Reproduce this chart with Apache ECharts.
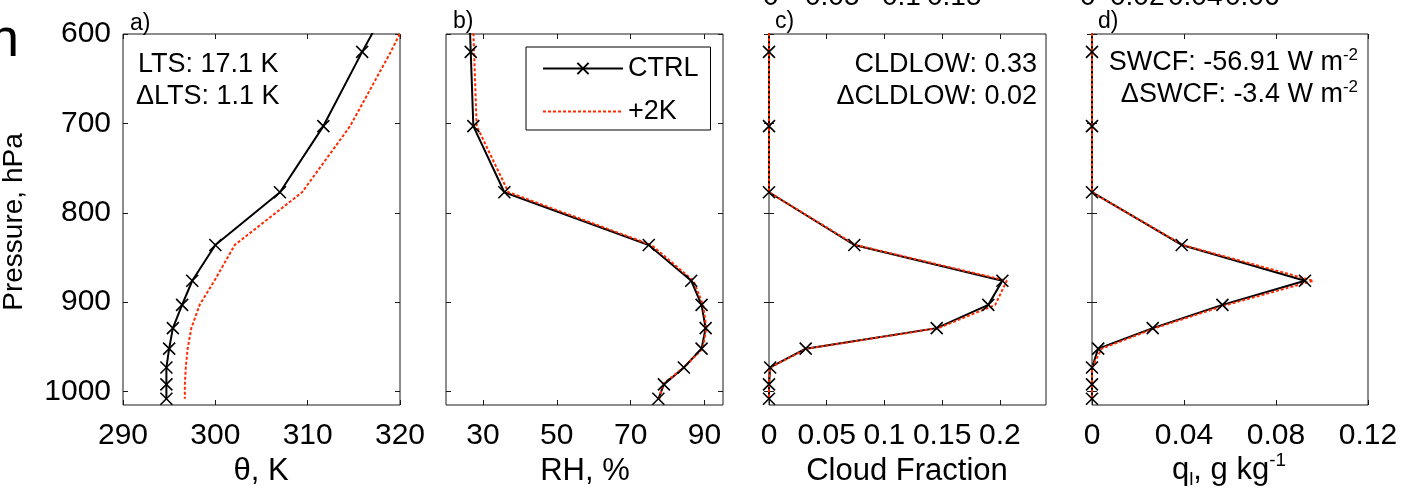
<!DOCTYPE html>
<html lang="en">
<head>
<meta charset="UTF-8">
<title>Profiles</title>
<script src="https://cdn.jsdelivr.net/npm/echarts@6/dist/echarts.min.js"></script>
<style>
  html, body { margin: 0; padding: 0; background: #fff; }
</style>
</head>
<body>
<div id="main" style="width: 1416px;height:499px;"></div>
<script type="text/javascript">
    // pressure levels, hPa (first one sits above the plotted range so the lines run to the top edge)
    var levels = [560, 620, 703, 777, 836, 876, 903, 929, 952, 973, 992, 1008];

    var thetaCtrl = [319.1, 315.9, 311.7, 307.0, 300.0, 297.5, 296.4, 295.4, 295.0, 294.7, 294.7, 294.7];
    var thetaP2K  = [321.9, 319.0, 314.6, 309.4, 302.1, 299.9, 298.3, 297.4, 297.0, 296.8, 296.7, 296.7];

    var rhCtrl = [26.2, 26.7, 27.4, 35.8, 74.9, 86.4, 89.2, 90.3, 89.2, 84.4, 79.0, 77.5];
    var rhP2K  = [27.1, 27.6, 28.3, 36.9, 75.6, 87.0, 89.6, 90.5, 89.5, 84.4, 78.6, 77.8];

    var cldCtrl = [0, 0, 0, 0, 0.0739, 0.2022, 0.190, 0.1453, 0.0318, 0.001, 0, 0];
    var cldP2K  = [0, 0, 0, 0, 0.0750, 0.2060, 0.196, 0.1467, 0.0330, 0.001, 0, 0];

    var qlCtrl = [0, 0, 0, 0, 0.0390, 0.0926, 0.0567, 0.0264, 0.0027, 0, 0, 0];
    var qlP2K  = [0, 0, 0, 0, 0.0395, 0.0962, 0.0586, 0.0274, 0.0042, 0, 0, 0];

    var yTicks = [600, 700, 800, 900, 1000];
    var thetaTicks = [290, 300, 310, 320];
    var rhTicks = [30, 50, 70, 90];
    var cldTicks = [0, 0.05, 0.1, 0.15, 0.2];
    var qlTicks = [0, 0.04, 0.08, 0.12];

    var FONT = 'Liberation Sans, Arial, Helvetica, sans-serif';
    var INK = '#1a1a1a';
    var RED = '#ff2a00';

    var myChart = echarts.init(document.getElementById('main'));

    // panel boxes: left, width
    var panels = [
        {left: 123, width: 277, min: 290, max: 320, ticks: thetaTicks, ctrl: thetaCtrl, p2k: thetaP2K},
        {left: 446, width: 277, min: 20, max: 95, ticks: rhTicks, ctrl: rhCtrl, p2k: rhP2K},
        {left: 769, width: 277, min: 0, max: 0.24, ticks: cldTicks, ctrl: cldCtrl, p2k: cldP2K},
        {left: 1092, width: 276, min: 0, max: 0.12, ticks: qlTicks, ctrl: qlCtrl, p2k: qlP2K}
    ];

    function pairs(vals) {
        return levels.map(function (p, k) { return [vals[k], p]; });
    }
    function plain(v) { return String(v); }

    var grids = [], xAxes = [], yAxes = [], series = [];
    var tickStyle = {color: INK, width: 1};
    var cross = 'path://M0,0L10,10M10,0L0,10';

    panels.forEach(function (pn, i) {
        grids.push({
            left: pn.left, top: 34, width: pn.width, height: 371,
            show: true, borderColor: INK, borderWidth: 1, backgroundColor: '#fff'
        });
        // bottom axis with labels, top axis with ticks only
        xAxes.push({
            gridIndex: i, type: 'value', position: 'bottom', min: pn.min, max: pn.max,
            axisLine: {show: false}, splitLine: {show: false},
            axisTick: {inside: true, length: 5, customValues: pn.ticks, lineStyle: tickStyle},
            axisLabel: {customValues: pn.ticks, formatter: plain, margin: 16, fontSize: 30, fontFamily: FONT, color: '#000'}
        });
        xAxes.push({
            gridIndex: i, type: 'value', position: 'top', min: pn.min, max: pn.max,
            axisLine: {show: false}, splitLine: {show: false},
            axisTick: {inside: true, length: 5, customValues: pn.ticks, lineStyle: tickStyle},
            axisLabel: {show: false}
        });
        yAxes.push({
            gridIndex: i, type: 'value', position: 'left', inverse: true, min: 600, max: 1015,
            axisLine: {show: false}, splitLine: {show: false},
            axisTick: {inside: true, length: 5, customValues: yTicks, lineStyle: tickStyle},
            axisLabel: {show: i === 0, customValues: yTicks, formatter: plain, margin: 12, fontSize: 30, fontFamily: FONT, color: '#000'}
        });
        yAxes.push({
            gridIndex: i, type: 'value', position: 'right', inverse: true, min: 600, max: 1015,
            axisLine: {show: false}, splitLine: {show: false},
            axisTick: {inside: true, length: 5, customValues: yTicks, lineStyle: tickStyle},
            axisLabel: {show: false}
        });
        series.push({
            name: 'CTRL', type: 'line', xAxisIndex: 2 * i, yAxisIndex: 2 * i,
            data: pairs(pn.ctrl), clip: true,
            symbol: cross, symbolSize: 12,
            lineStyle: {color: '#000', width: 2},
            itemStyle: {color: '#000', borderColor: '#000', borderWidth: 1.6}
        });
        series.push({
            name: '+2K', type: 'line', xAxisIndex: 2 * i, yAxisIndex: 2 * i,
            data: pairs(pn.p2k), clip: true, symbol: 'none',
            lineStyle: {color: RED, width: 2, type: [3, 2]},
            itemStyle: {color: RED}
        });
    });

    function txt(x, y, s, size, align, extra) {
        var st = {text: s, x: 0, y: 0, fontSize: size, fontFamily: FONT, fill: '#000',
            align: align || 'left', textAlign: align || 'left',
            verticalAlign: 'middle', textVerticalAlign: 'middle'};
        if (extra) { for (var k in extra) st[k] = extra[k]; }
        return {type: 'text', x: x, y: y, z: 100, style: st};
    }

    var supRich = {
        a: {fontSize: 27, fontFamily: FONT, fill: '#000', lineHeight: 32},
        s: {fontSize: 17, fontFamily: FONT, fill: '#000', verticalAlign: 'top', lineHeight: 15}
    };

    var graphics = [
        txt(130, 24, 'a)', 23),
        txt(453, 22, 'b)', 23),
        txt(775, 22, 'c)', 23),
        txt(1098, 22, 'd)', 23),
        txt(138, 65, 'LTS: 17.1 K', 27),
        txt(136, 97, '\u0394LTS: 1.1 K', 27),
        txt(1037, 65, 'CLDLOW: 0.33', 27, 'right'),
        txt(1037, 97, '\u0394CLDLOW: 0.02', 27, 'right'),
        txt(1358, 63, '{a|SWCF: -56.91 W m}{s|-2}', 27, 'right', {rich: supRich}),
        txt(1358, 95, '{a|\u0394SWCF: -3.4 W m}{s|-2}', 27, 'right', {rich: supRich}),
        txt(261, 471, '\u03b8, K', 31, 'center'),
        txt(585, 471, 'RH, %', 31, 'center'),
        txt(907, 471, 'Cloud Fraction', 31, 'center'),
        txt(1229, 470, '{a|q}{b|l}{a|, g kg}{c|-1}', 31, 'center', {rich: {
            a: {fontSize: 31, fontFamily: FONT, fill: '#000', lineHeight: 38},
            b: {fontSize: 19, fontFamily: FONT, fill: '#000', verticalAlign: 'bottom', lineHeight: 16},
            c: {fontSize: 19, fontFamily: FONT, fill: '#000', verticalAlign: 'top', lineHeight: 16}
        }}),
        {type: 'text', x: 14, y: 222, rotation: Math.PI / 2, z: 100,
            style: {text: 'Pressure, hPa', fontSize: 28, fontFamily: FONT, fill: '#000',
                align: 'center', textAlign: 'center', verticalAlign: 'middle', textVerticalAlign: 'middle'}},
        txt(19, 41, 'n', 54, 'right'),
        // bottoms of tick labels from the figure cropped off above
        txt(763, -3, '0', 28),
        txt(805, -3, '0.05', 28),
        txt(882, -3, '0.1', 28),
        txt(927, -3, '0.15', 28),
        txt(1080, -3, '0', 28),
        txt(1110, -3, '0.02', 28),
        txt(1168, -3, '0.04', 28),
        txt(1225, -3, '0.06', 28)
    ];

    var option = {
        animation: false,
        backgroundColor: '#fff',
        grid: grids,
        xAxis: xAxes,
        yAxis: yAxes,
        legend: {
            data: ['CTRL', {name: '+2K', itemStyle: {opacity: 0}}],
            orient: 'vertical', left: 526, top: 47,
            padding: [8, 12, 5, 16], itemGap: 16, itemWidth: 80, itemHeight: 14,
            borderColor: '#000', borderWidth: 1, backgroundColor: '#fff',
            selectedMode: false,
            textStyle: {fontSize: 27, fontFamily: FONT, color: '#000'}
        },
        graphic: graphics,
        series: series
    };
    myChart.setOption(option);
</script>
</body>
</html>
